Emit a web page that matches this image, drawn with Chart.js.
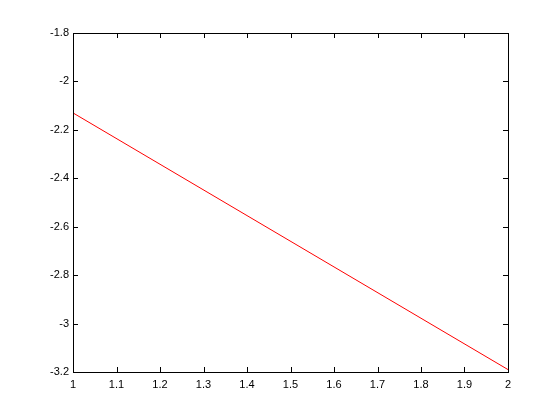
<!DOCTYPE html>
<html>
<head>
<meta charset="utf-8">
<script src="https://cdn.jsdelivr.net/npm/chart.js@4/dist/chart.umd.min.js"></script>
<style>
  html, body { margin: 0; padding: 0; background: #fff; }
  #wrap { width: 560px; height: 420px; }
</style>
</head>
<body>
<div id="wrap"><canvas id="plot" width="560" height="420"></canvas></div>
<script>
// data
const xValues = [1, 2];
const yValues = [-2.13, -3.19];
const xTicks = [1, 1.1, 1.2, 1.3, 1.4, 1.5, 1.6, 1.7, 1.8, 1.9, 2];
const yTicks = [-3.2, -3, -2.8, -2.6, -2.4, -2.2, -2, -1.8];

// matlab style box with inward ticks on all sides
const boxTicks = {
  id: 'boxTicks',
  afterDraw(chart) {
    const { ctx, chartArea: a, scales } = chart;
    const len = 5;
    ctx.save();
    ctx.strokeStyle = '#000';
    ctx.lineWidth = 1;
    ctx.beginPath();
    xTicks.forEach(v => {
      const px = Math.round(scales.x.getPixelForValue(v)) + 0.5;
      ctx.moveTo(px, a.bottom); ctx.lineTo(px, a.bottom - len);
      ctx.moveTo(px, a.top); ctx.lineTo(px, a.top + len);
    });
    yTicks.forEach(v => {
      const py = Math.round(scales.y.getPixelForValue(v)) + 0.5;
      ctx.moveTo(a.left, py); ctx.lineTo(a.left + len, py);
      ctx.moveTo(a.right, py); ctx.lineTo(a.right - len, py);
    });
    ctx.stroke();
    ctx.strokeRect(Math.round(a.left) + 0.5, Math.round(a.top) + 0.5,
      Math.round(a.right - a.left), Math.round(a.bottom - a.top));
    ctx.restore();
  }
};

const fmt = v => String(parseFloat(Number(v).toFixed(1)));

new Chart(document.getElementById('plot'), {
  type: 'line',
  data: {
    datasets: [{
      data: xValues.map((x, i) => ({ x: x, y: yValues[i] })),
      borderColor: '#ff0000',
      borderWidth: 1,
      pointRadius: 0,
      tension: 0,
      fill: false
    }]
  },
  options: {
    responsive: false,
    animation: false,
    events: [],
    layout: { padding: { left: 0, right: 52, top: 33, bottom: 0 } },
    plugins: { legend: { display: false }, tooltip: { enabled: false } },
    scales: {
      x: {
        type: 'linear',
        min: 1,
        max: 2,
        afterBuildTicks: s => { s.ticks = xTicks.map(v => ({ value: v })); },
        afterFit: s => { s.height = 48; },
        grid: { display: false, drawTicks: false },
        border: { display: false },
        ticks: {
          padding: 6,
          color: '#000',
          font: { family: 'Liberation Sans', size: 11 },
          maxRotation: 0,
          autoSkip: false,
          callback: fmt
        }
      },
      y: {
        type: 'linear',
        min: -3.2,
        max: -1.8,
        afterBuildTicks: s => { s.ticks = yTicks.map(v => ({ value: v })); },
        afterFit: s => { s.width = 73; },
        grid: { display: false, drawTicks: false },
        border: { display: false },
        ticks: {
          padding: 4,
          color: '#000',
          font: { family: 'Liberation Sans', size: 11 },
          autoSkip: false,
          callback: fmt
        }
      }
    }
  },
  plugins: [boxTicks]
});
</script>
</body>
</html>
